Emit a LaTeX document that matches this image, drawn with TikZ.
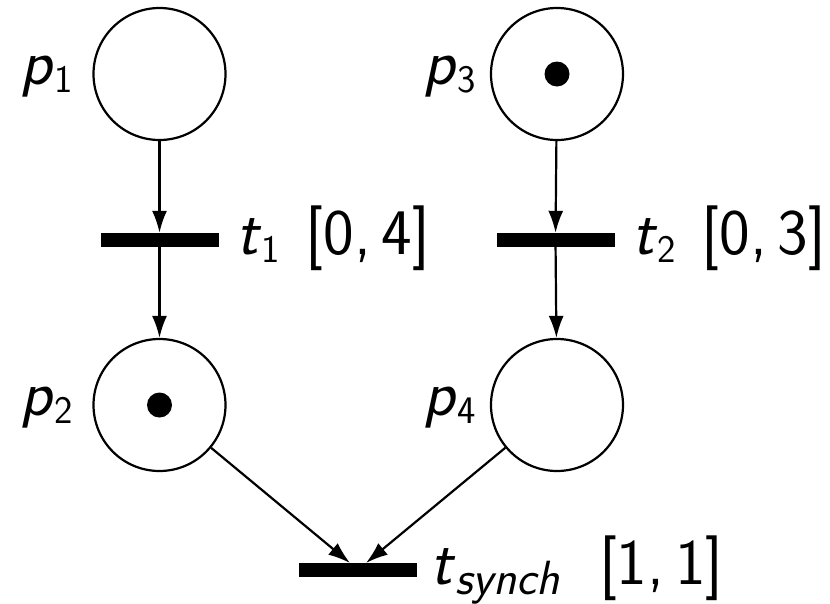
\documentclass[tikz,border=0pt]{standalone}
\usepackage{fontspec}
\usetikzlibrary{arrows.meta}
\newcommand{\ital}[1]{\textit{#1}}
\newcommand{\subx}[1]{\raisebox{-8pt}{\fontsize{39}{42}\selectfont #1}}
\newcommand{\subw}[1]{\raisebox{-10pt}{\fontsize{48}{52}\selectfont #1}}
\tikzset{
  place/.style={circle,draw,line width=2.2pt,minimum size=132pt,inner sep=0pt},
  trans/.style={fill=black,minimum width=118pt,minimum height=14pt,inner sep=0pt},
  token/.style={circle,fill=black,minimum size=25pt,inner sep=0pt},
  arc/.style={line width=2.2pt,-{Latex[length=22pt,width=15pt]}},
  lbl/.style={font=\fontsize{65}{72}\selectfont\sffamily,inner sep=0pt}
}
\begin{document}
\begin{tikzpicture}[x=1pt,y=-1pt]
\useasboundingbox (0,0) rectangle (830,603);
% places
\node[place] (p1) at (159.5,74) {};
\node[place] (p3) at (557,74) {};
\node[place] (p2) at (159.5,405) {};
\node[place] (p4) at (557,405) {};
% tokens
\node[token] (k3) at (p3) {};
\node[token] (k2) at (p2) {};
% transitions
\node[trans] (t1) at (159.5,240) {};
\node[trans] (t2) at (555.5,240) {};
\node[trans] (ts) at (358,570) {};
\coordinate (tsl) at (350,563);
\coordinate (tsr) at (366,563);
% arcs
\draw[arc] (p1) -- (t1);
\draw[arc] (t1) -- (p2);
\draw[arc] (p3) -- (t2);
\draw[arc] (t2) -- (p4);
\draw[arc] (p2) -- (tsl);
\draw[arc] (p4) -- (tsr);
% labels
\node[lbl,anchor=base east] (lp1) at (73,84) {\ital{p}\subx{1}};
\node[lbl,anchor=base east] (lp3) at (476,84) {\ital{p}\subx{3}};
\node[lbl,anchor=base east] (lp2) at (73,415) {\ital{p}\subx{2}};
\node[lbl,anchor=base east] (lp4) at (476,415) {\ital{p}\subx{4}};
\node[lbl,anchor=base west] (lt1) at (236,254) {\ital{t}\subx{1}\hspace{0.4em}[0,\,4]};
\node[lbl,anchor=base west] (lt2) at (632,254) {\ital{t}\subx{2}\hspace{0.4em}[0,\,3]};
\node[lbl,anchor=base west] (lts) at (430,584) {\ital{t}\subw{\ital{synch}}\hspace{0.6em}[1,\,1]};
\end{tikzpicture}
\end{document}
